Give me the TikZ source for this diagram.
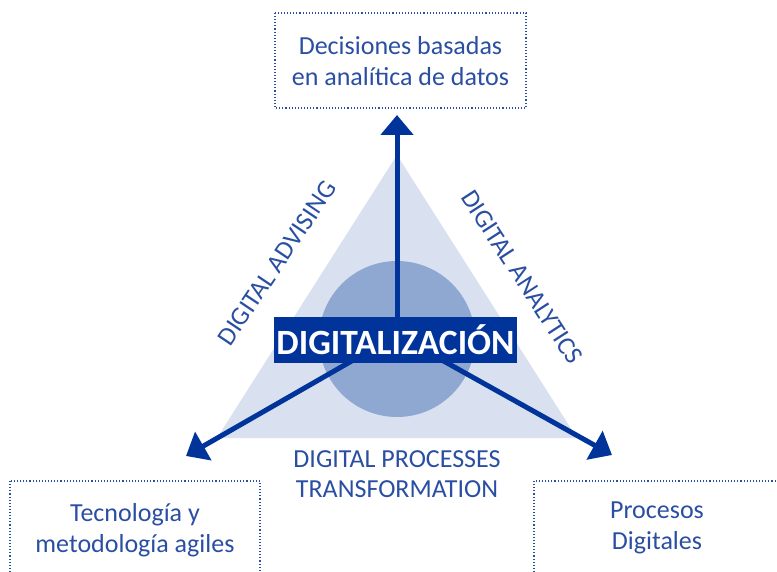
\documentclass[tikz,border=0pt]{standalone}
\usepackage{fontspec}
\setmainfont{Carlito}
\usetikzlibrary{arrows.meta}
\definecolor{txtblue}{HTML}{2A4EA2}
\definecolor{darkblue}{HTML}{00349A}
\definecolor{trifill}{HTML}{D9E0F0}
\definecolor{circfill}{HTML}{8EA8D2}
\tikzset{
  lbl/.style={text=txtblue, align=center, font=\fontsize{26}{30}\selectfont},
  boxline/.style={draw=txtblue, dotted, line width=1.1pt},
  bigarrow/.style={draw=darkblue, line width=5pt, -{Triangle[width=32pt,length=20pt]}},
}
\begin{document}
\begin{tikzpicture}[x=1pt,y=-1pt]
\useasboundingbox (0,0) rectangle (777,572);
\clip (0,0) rectangle (777,572);
% triangle and circle
\fill[trifill] (397,155) -- (577,438) -- (217,438) -- cycle;
\fill[circfill] (397,339) circle (78);
\coordinate (c) at (397,335);
% boxes
\draw[boxline] (275,13) rectangle (526,108);
\node[lbl, font=\fontsize{26}{31}\selectfont] (top) at (400.5,61) {Decisiones basadas\\en analítica de datos};
\draw[boxline] (10,481) rectangle (260,590);
\node[lbl, font=\fontsize{26}{31}\selectfont] (left) at (135,530) {Tecnología y\\metodología agiles};
\draw[boxline] (534,481) rectangle (800,590);
\node[lbl, font=\fontsize{26}{31}\selectfont] (right) at (657,528) {Procesos\\Digitales};
% arrows
\coordinate (t1) at (397,115);
\coordinate (t2) at (186,456);
\coordinate (t3) at (612,455);
\draw[bigarrow] (c) -- (t1);
\draw[bigarrow] (c) -- (t2);
\draw[bigarrow] (c) -- (t3);
% center label
\node[fill=darkblue, text=white, font=\fontsize{35.5}{37}\selectfont\bfseries, minimum width=243pt, minimum height=46pt, inner sep=0pt] (dig) at (395.5,340) {DIGITALIZACIÓN};
% side labels
\node[lbl, rotate=56] (adv) at (277,263) {DIGITAL ADVISING};
\node[lbl, rotate=-57] (ana) at (522,277) {DIGITAL ANALYTICS};
\node[lbl] (proc) at (397,474) {DIGITAL PROCESSES\\TRANSFORMATION};
\end{tikzpicture}
\end{document}
